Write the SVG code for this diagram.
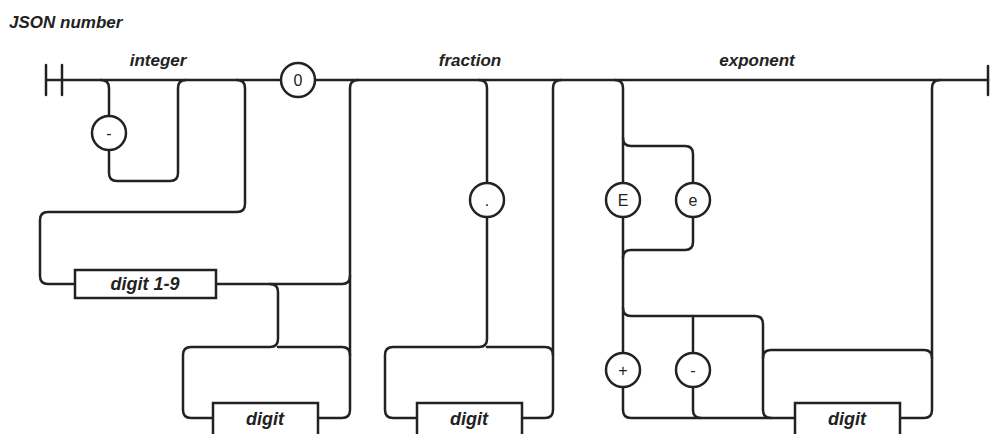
<svg xmlns="http://www.w3.org/2000/svg" width="999" height="434" viewBox="0 0 999 434">
<style>
.ln{fill:none;stroke:#222;stroke-width:2.5;stroke-linecap:round}
.box{fill:#fff;stroke:#222;stroke-width:2.5}
.cir{fill:#fff;stroke:#222;stroke-width:2.5}
.lbl{font-family:"Liberation Sans",Arial,sans-serif;font-style:italic;font-weight:bold;fill:#222}
.sec{font-size:17px;text-anchor:middle}
.bt{font-size:18px;text-anchor:middle}
.ct{font-family:"Liberation Sans",Arial,sans-serif;font-size:16px;fill:#222;text-anchor:middle}
</style>
<rect width="999" height="434" fill="#fff"/>
<text class="lbl" x="9" y="28" font-size="17">JSON number</text>
<text class="lbl sec" x="158" y="66">integer</text>
<text class="lbl sec" x="470" y="66">fraction</text>
<text class="lbl sec" x="757" y="66">exponent</text>
<g id="connectors">
<path class="ln" d="M46 80 H988"/>
<path class="ln" d="M46 65 V95 M62 65 V95"/>
<path class="ln" d="M988 66 V95"/>
<path class="ln" d="M101 80 Q109 80 109 88 V173 Q109 181 117 181 H170 Q178 181 178 173 V88 Q178 80 186 80"/>
<path class="ln" d="M237 80 Q245 80 245 88 V204 Q245 212 237 212 H48 Q40 212 40 220 V276 Q40 284 48 284 H75"/>
<path class="ln" d="M216 284 H342 Q350 284 350 276"/>
<path class="ln" d="M270 284 Q278 284 278 292 V339 Q278 347 270 347 H191 Q183 347 183 355 V410 Q183 418 191 418 H213"/>
<path class="ln" d="M318 418 H342 Q350 418 350 410 V88 Q350 80 358 80"/>
<path class="ln" d="M350 355 Q350 347 342 347 H278"/>
<path class="ln" d="M479 80 Q487 80 487 88 V339 Q487 347 479 347 H393 Q385 347 385 355 V410 Q385 418 393 418 H417"/>
<path class="ln" d="M522 418 H545 Q553 418 553 410 V88 Q553 80 561 80"/>
<path class="ln" d="M553 355 Q553 347 545 347 H487"/>
<path class="ln" d="M615 80 Q623 80 623 88 V410 Q623 418 631 418 H795"/>
<path class="ln" d="M623 138 Q623 146 631 146 H685 Q693 146 693 154 V242 Q693 250 685 250 H631 Q623 250 623 258"/>
<path class="ln" d="M623 308 Q623 316 631 316 H755 Q763 316 763 324 V410 Q763 418 771 418"/>
<path class="ln" d="M693 316 V410 Q693 418 701 418"/>
<path class="ln" d="M900 418 H924 Q932 418 932 410 V88 Q932 80 940 80"/>
<path class="ln" d="M932 358 Q932 350 924 350 H771 Q763 350 763 358"/>
</g>
<g id="minus1"><circle class="cir" cx="109" cy="133" r="17"/><text class="ct" x="109" y="139">-</text></g>
<g id="zero"><circle class="cir" cx="298" cy="80" r="17"/><text class="ct" x="298" y="86">0</text></g>
<g id="digit19"><rect class="box" x="75" y="270" width="141" height="28"/><text class="lbl bt" x="145" y="290">digit 1-9</text></g>
<g id="digit1"><rect class="box" x="213" y="403" width="105" height="40"/><text class="lbl bt" x="265" y="425">digit</text></g>
<g id="dot"><circle class="cir" cx="487" cy="200" r="17"/><text class="ct" x="487" y="206">.</text></g>
<g id="digit2"><rect class="box" x="417" y="403" width="105" height="40"/><text class="lbl bt" x="469" y="425">digit</text></g>
<g id="E"><circle class="cir" cx="623" cy="200" r="17"/><text class="ct" x="623" y="206">E</text></g>
<g id="e"><circle class="cir" cx="693" cy="200" r="17"/><text class="ct" x="693" y="206">e</text></g>
<g id="plus"><circle class="cir" cx="623" cy="370" r="17"/><text class="ct" x="623" y="376">+</text></g>
<g id="minus2"><circle class="cir" cx="693" cy="370" r="17"/><text class="ct" x="693" y="376">-</text></g>
<g id="digit3"><rect class="box" x="795" y="403" width="105" height="40"/><text class="lbl bt" x="847" y="425">digit</text></g>
</svg>
